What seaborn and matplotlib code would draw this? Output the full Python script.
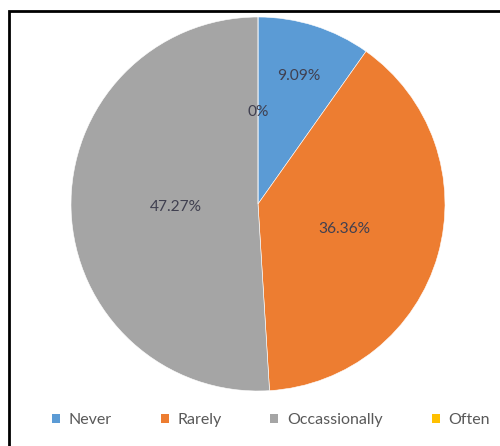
import numpy as np
import matplotlib
matplotlib.use("Agg")
import matplotlib.pyplot as plt
from matplotlib.lines import Line2D
from matplotlib.patches import Patch
import seaborn as sns

# Survey response shares (percent of respondents)
categories = ["Never", "Rarely", "Occassionally", "Often"]
shares = [9.09, 36.36, 47.27, 0.0]
labels = ["9.09%", "36.36%", "47.27%", "0%"]
label_radius = [0.72, 0.48, 0.44, 0.49]

sns.set_theme(style="white")
plt.rcParams["font.family"] = ["Lato", "DejaVu Sans"]
colors = sns.color_palette(["#5B9BD5", "#ED7D31", "#A5A5A5", "#FFC000"])

W, H = 500, 446
fig = plt.figure(figsize=(W / 100, H / 100), dpi=100)
fig.patch.set_facecolor("white")

# square axes holding the pie
cx, cy, r = 258, 204, 187
ax = fig.add_axes([(cx - r) / W, 1 - (cy + r) / H, 2 * r / W, 2 * r / H])
wedges, _ = ax.pie(shares, colors=colors, startangle=90, counterclock=False,
                   wedgeprops=dict(edgecolor="white", linewidth=0.4))
ax.set_xlim(-1, 1)
ax.set_ylim(-1, 1)
ax.axis("off")

for w, lab, rad in zip(wedges, labels, label_radius):
    ang = np.deg2rad((w.theta1 + w.theta2) / 2)
    ax.text(rad * np.cos(ang), rad * np.sin(ang), lab, ha="center", va="center",
            fontsize=11.2, color="#404050")

# legend along the bottom
handles = [Patch(facecolor=c, edgecolor="none") for c in colors]
fig.legend(handles, categories, loc="center", bbox_to_anchor=(0.542, 1 - 420 / H),
           ncol=4, frameon=False, fontsize=11.5, handlelength=0.5, handleheight=0.5,
           handletextpad=0.55, columnspacing=3.05, labelcolor="#595959")

# frame lines on top and left
fig.add_artist(Line2D([8.5 / W, 8.5 / W, 1.0], [0.0, 1 - 10.5 / H, 1 - 10.5 / H],
                      transform=fig.transFigure, color="black", linewidth=2.0,
                      solid_joinstyle="miter"))

fig.savefig("out.png", dpi=100)
